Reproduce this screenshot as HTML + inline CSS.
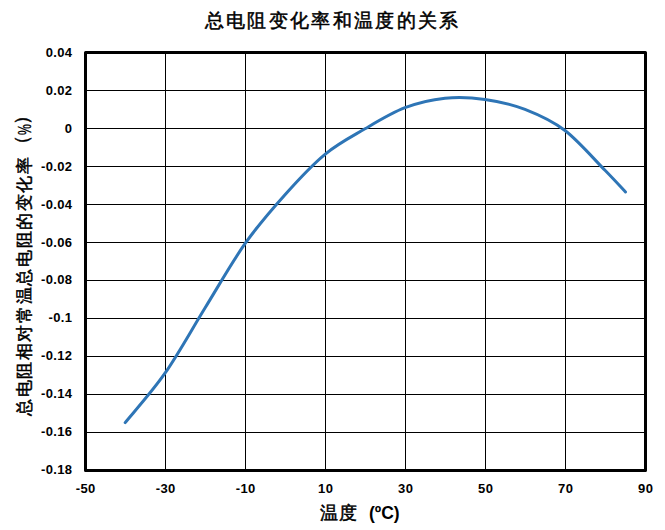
<!DOCTYPE html>
<html><head><meta charset="utf-8">
<style>
html,body{margin:0;padding:0;background:#fff;}
body{width:665px;height:530px;overflow:hidden;position:relative;font-family:"Liberation Sans",sans-serif;}
svg{position:absolute;left:0;top:0;}
.t{font-family:"Liberation Sans",sans-serif;font-weight:bold;font-size:13px;letter-spacing:0.35px;fill:#000;}
.cj{font-weight:normal;-webkit-text-stroke:0.5px #000;color:#000;white-space:nowrap;}
.title{position:absolute;left:204.5px;top:9px;font-size:19px;line-height:24px;letter-spacing:2.35px;}
.xt1{position:absolute;left:320px;top:502px;font-size:18px;line-height:22px;letter-spacing:1px;}
.xt2{position:absolute;left:369px;top:502px;font-size:17.5px;line-height:22px;font-weight:bold;color:#000;white-space:nowrap;}
.yt{position:absolute;left:24px;top:266px;width:300px;height:20px;transform:translate(-150px,-10px) rotate(-90deg);white-space:nowrap;color:#000;}
.yt1{position:absolute;left:0;top:0;font-size:16.5px;line-height:20px;letter-spacing:1.62px;}
.yp{position:absolute;top:-2px;font-size:19px;line-height:20px;}
.ypc{position:absolute;top:1px;font-size:18px;line-height:20px;-webkit-text-stroke:0.3px #000;transform:scaleX(0.68);transform-origin:0 50%;}
</style></head><body>
<svg width="665" height="530" viewBox="0 0 665 530">
<g stroke="#000" stroke-width="1" shape-rendering="crispEdges">
<line x1="165.5" y1="52" x2="165.5" y2="471"/>
<line x1="245.5" y1="52" x2="245.5" y2="471"/>
<line x1="325.5" y1="52" x2="325.5" y2="471"/>
<line x1="405.5" y1="52" x2="405.5" y2="471"/>
<line x1="485.5" y1="52" x2="485.5" y2="471"/>
<line x1="565.5" y1="52" x2="565.5" y2="471"/>
<line x1="85" y1="90.5" x2="646" y2="90.5"/>
<line x1="85" y1="128.5" x2="646" y2="128.5"/>
<line x1="85" y1="166.5" x2="646" y2="166.5"/>
<line x1="85" y1="204.5" x2="646" y2="204.5"/>
<line x1="85" y1="242.5" x2="646" y2="242.5"/>
<line x1="85" y1="280.5" x2="646" y2="280.5"/>
<line x1="85" y1="318.5" x2="646" y2="318.5"/>
<line x1="85" y1="356.5" x2="646" y2="356.5"/>
<line x1="85" y1="394.5" x2="646" y2="394.5"/>
<line x1="85" y1="432.5" x2="646" y2="432.5"/>
</g>
<rect x="85.5" y="52.5" width="560" height="418" fill="none" stroke="#000" stroke-width="3" stroke-linejoin="round"/>
<path d="M125.2 422.6 C131.8 414.4 151.7 392.3 165.0 373.2 C178.3 354.1 191.7 329.6 205.0 308.0 C218.3 286.4 231.7 262.6 245.0 243.7 C258.3 224.8 271.7 209.6 285.0 194.7 C298.3 179.8 311.7 165.3 325.0 154.3 C338.3 143.3 351.7 136.6 365.0 128.8 C378.3 121.0 391.7 112.8 405.0 107.7 C418.3 102.6 431.7 99.6 445.0 98.2 C458.3 96.8 471.7 97.5 485.0 99.4 C498.3 101.3 511.7 104.2 525.0 109.4 C538.3 114.6 551.7 120.3 565.0 130.5 C578.3 140.7 594.9 160.1 605.0 170.3 C615.1 180.6 622.1 188.4 625.5 192.0" fill="none" stroke="#2E75B6" stroke-width="3" stroke-linecap="round" stroke-linejoin="round"/>
<g class="t">
<text x="72.4" y="57.0" text-anchor="end">0.04</text>
<text x="72.4" y="94.9" text-anchor="end">0.02</text>
<text x="72.4" y="132.8" text-anchor="end">0</text>
<text x="72.4" y="170.7" text-anchor="end">-0.02</text>
<text x="72.4" y="208.6" text-anchor="end">-0.04</text>
<text x="72.4" y="246.5" text-anchor="end">-0.06</text>
<text x="72.4" y="284.4" text-anchor="end">-0.08</text>
<text x="72.4" y="322.3" text-anchor="end">-0.1</text>
<text x="72.4" y="360.2" text-anchor="end">-0.12</text>
<text x="72.4" y="398.1" text-anchor="end">-0.14</text>
<text x="72.4" y="436.0" text-anchor="end">-0.16</text>
<text x="72.4" y="473.9" text-anchor="end">-0.18</text>
<text x="85.7" y="493" text-anchor="middle">-50</text>
<text x="165.7" y="493" text-anchor="middle">-30</text>
<text x="245.7" y="493" text-anchor="middle">-10</text>
<text x="325.7" y="493" text-anchor="middle">10</text>
<text x="405.7" y="493" text-anchor="middle">30</text>
<text x="485.7" y="493" text-anchor="middle">50</text>
<text x="565.7" y="493" text-anchor="middle">70</text>
<text x="645.7" y="493" text-anchor="middle">90</text>
</g>
</svg>
<div class="title cj">总电阻变化率和温度的关系</div>
<div class="yt"><span class="yt1 cj">总电阻相对常温总电阻的变化率</span><span class="yp cj" style="left:262px">（</span><span class="ypc" style="left:281px">%</span><span class="yp cj" style="left:291px">）</span></div>
<div class="xt1 cj">温度</div><div class="xt2">(ºC)</div>
</body></html>
